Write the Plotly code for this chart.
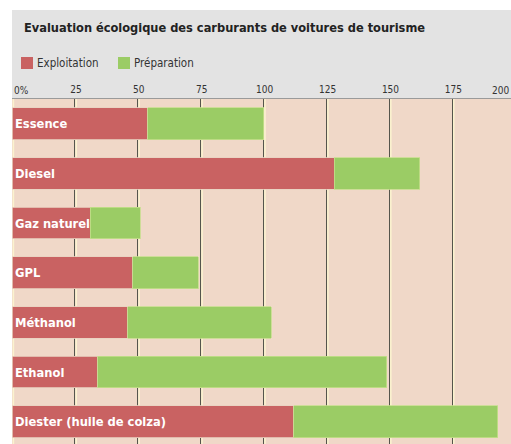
import plotly.graph_objects as go

title = "Evaluation écologique des carburants de voitures de tourisme"
categories = ["Essence", "Diesel", "Gaz naturel", "GPL", "Méthanol", "Ethanol", "Diester (huile de colza)"]
exploitation = [54, 128, 31, 48, 46, 34, 112]
preparation = [46, 34, 20, 26, 57, 115, 81]
series_names = ["Exploitation", "Préparation"]
tick_vals = [0, 25, 50, 75, 100, 125, 150, 175, 200]
tick_text = ["0%", "25", "50", "75", "100", "125", "150", "175", "200"]

RED = "#c96262"
GREEN = "#9bcc65"
PEACH = "#f0d8c8"
HEADER = "#e3e3e3"
FONT = "DejaVu Sans Condensed, Liberation Sans Narrow, Roboto Condensed, sans-serif"

W, H = 511, 444
ML, MT = 12, 99
PW, PH = W - ML, H - MT

fig = go.Figure()
fig.add_trace(go.Bar(y=categories, x=exploitation, orientation="h", name=series_names[0],
                     marker=dict(color=RED, line=dict(color="#e9d2c0", width=0.8)), width=0.64))
fig.add_trace(go.Bar(y=categories, x=preparation, orientation="h", name=series_names[1],
                     marker=dict(color=GREEN, line=dict(color="#c6df8c", width=0.8)), width=0.64))

shapes = []
def px_x(px):
    return (px - ML) / PW
def px_y(py):
    return (H - py) / PH

# header band
shapes.append(dict(type="rect", xref="paper", yref="paper", x0=0, x1=1,
                   y0=px_y(98), y1=px_y(10), fillcolor=HEADER, line=dict(width=0), layer="below"))
# cream highlights next to grid lines
for t in tick_vals:
    shapes.append(dict(type="line", xref="x", yref="paper", x0=t + 0.55, x1=t + 0.55, y0=0, y1=1,
                       line=dict(color="#fbf3cf", width=1.5), layer="between"))
# legend swatches
leg_x = [21, 118]
leg_cols = [RED, GREEN]
for lx, c in zip(leg_x, leg_cols):
    shapes.append(dict(type="rect", xref="paper", yref="paper", x0=px_x(lx), x1=px_x(lx + 12),
                       y0=px_y(69), y1=px_y(57), fillcolor=c, line=dict(width=0)))

TICKFONT = dict(family=FONT, size=10, color="#333333")
annotations = [dict(text="<b>" + title + "</b>", xref="paper", yref="paper", x=px_x(22), y=px_y(28),
                    xanchor="left", yanchor="middle", showarrow=False,
                    font=dict(family=FONT, size=12.7, color="#222222"))]
for lx, name in zip(leg_x, series_names):
    annotations.append(dict(text=name, xref="paper", yref="paper", x=px_x(lx + 14), y=px_y(63),
                            xanchor="left", yanchor="middle", showarrow=False,
                            font=dict(family=FONT, size=11.5, color="#333333")))
for cat in categories:
    annotations.append(dict(text="<b>" + cat + "</b>", xref="x", yref="y", x=0, y=cat, xshift=1,
                            xanchor="left", yanchor="middle", showarrow=False,
                            font=dict(family=FONT, size=12.8, color="white")))
# edge tick labels (first and last) placed so they stay inside the page
annotations.append(dict(text=tick_text[0], xref="paper", yref="paper", x=0, y=1, yshift=1,
                        xanchor="left", yanchor="bottom", showarrow=False, font=TICKFONT))
annotations.append(dict(text=tick_text[-1], xref="paper", yref="paper", x=1, y=1, yshift=1,
                        xanchor="right", yanchor="bottom", showarrow=False, font=TICKFONT))

axis_ticktext = [""] + tick_text[1:-1] + [""]

fig.update_layout(
    width=W, height=H,
    margin=dict(l=ML, r=0, t=MT, b=0, pad=0),
    barmode="stack",
    bargap=0.36,
    showlegend=False,
    paper_bgcolor="white",
    plot_bgcolor=PEACH,
    shapes=shapes,
    annotations=annotations,
    xaxis=dict(side="top", range=[0, 198.3], tickvals=tick_vals, ticktext=axis_ticktext,
               showgrid=True, gridcolor="#55554c", gridwidth=1.2, zeroline=False,
               showline=True, linecolor="#9a9a9a", linewidth=1, ticks="",
               tickfont=TICKFONT, ticklabelstandoff=1, ticklabelshift=1,
               fixedrange=True),
    yaxis=dict(type="category", categoryorder="array", categoryarray=categories,
               range=[6.45, -0.5], showticklabels=False, showgrid=False, zeroline=False,
               fixedrange=True),
)

fig.write_html("out.html", config={"displayModeBar": False},
               post_script="document.body.style.margin='0';document.body.style.padding='0';")
